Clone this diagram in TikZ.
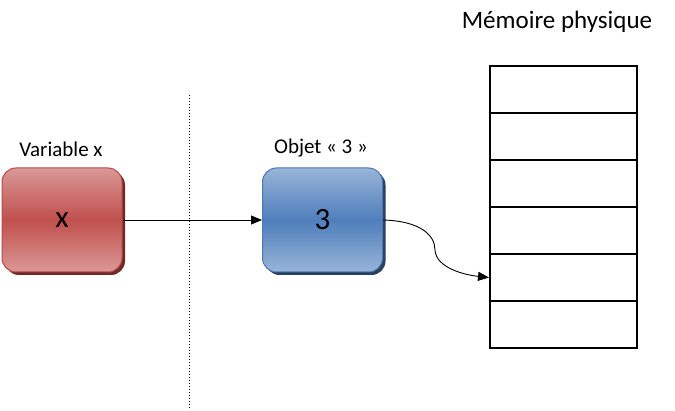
\documentclass[tikz,border=0pt]{standalone}
\usepackage{fontspec}
\setmainfont{Carlito}
\usetikzlibrary{arrows.meta,shadows}
\definecolor{redlight}{HTML}{DA9896}
\definecolor{redmid}{HTML}{C0504D}
\definecolor{redborder}{HTML}{B8494A}
\definecolor{redshadow}{HTML}{6E2A28}
\definecolor{bluelight}{HTML}{98B4D8}
\definecolor{bluemid}{HTML}{4F7FBC}
\definecolor{blueborder}{HTML}{4A78B0}
\definecolor{blueshadow}{HTML}{283F60}
\tikzset{
  valbox/.style={rounded corners=14pt, minimum width=120pt, minimum height=104pt, inner sep=0pt, line width=1pt, font=\fontsize{31}{33}\selectfont},
  redbox/.style={valbox, draw=redborder, top color=redlight, bottom color=redlight, middle color=redmid,
    drop shadow={shadow xshift=3pt, shadow yshift=-3pt, fill=redshadow, opacity=1}},
  bluebox/.style={valbox, draw=blueborder, top color=bluelight, bottom color=bluelight, middle color=bluemid,
    drop shadow={shadow xshift=3pt, shadow yshift=-3pt, fill=blueshadow, opacity=1}},
  cell/.style={draw, line width=2pt, minimum width=147pt, minimum height=47pt, inner sep=0pt},
  lbl/.style={font=\fontsize{21}{23}\selectfont, inner sep=0pt},
  conn/.style={line width=0.9pt, -{Triangle[length=11pt,width=9pt]}}
}
\begin{document}
\begin{tikzpicture}[x=1pt,y=-1pt]
\useasboundingbox (0,0) rectangle (675,411);
\node[redbox] (var) at (62,220) {\raisebox{-4pt}{x}};
\node[bluebox] (obj) at (322.5,220) {\raisebox{-2pt}{3}};
\node[lbl] (varlbl) at (61,149) {Variable x};
\node[lbl] (objlbl) at (321,148) {Objet « 3 »};
\node[font=\fontsize{25}{28}\selectfont, inner sep=0pt] (title) at (557,22) {Mémoire physique};
\node[cell] (c1) at (563.5,89.5) {};
\node[cell] (c2) at (563.5,136.5) {};
\node[cell] (c3) at (563.5,183.5) {};
\node[cell] (c4) at (563.5,230.5) {};
\node[cell] (c5) at (563.5,277.5) {};
\node[cell] (c6) at (563.5,324.5) {};
\coordinate (dtop) at (189,95);
\coordinate (dbot) at (189,410);
\draw[dotted, line width=1pt] (dtop) -- (dbot);
\draw[conn] (var.east) -- (obj.west);
\coordinate (mid) at (435,250);
\draw[conn] (obj.east) .. controls (420,221) and (435,235) .. (mid) .. controls (436,268) and (465,275) .. (c5.west);
\end{tikzpicture}
\end{document}
